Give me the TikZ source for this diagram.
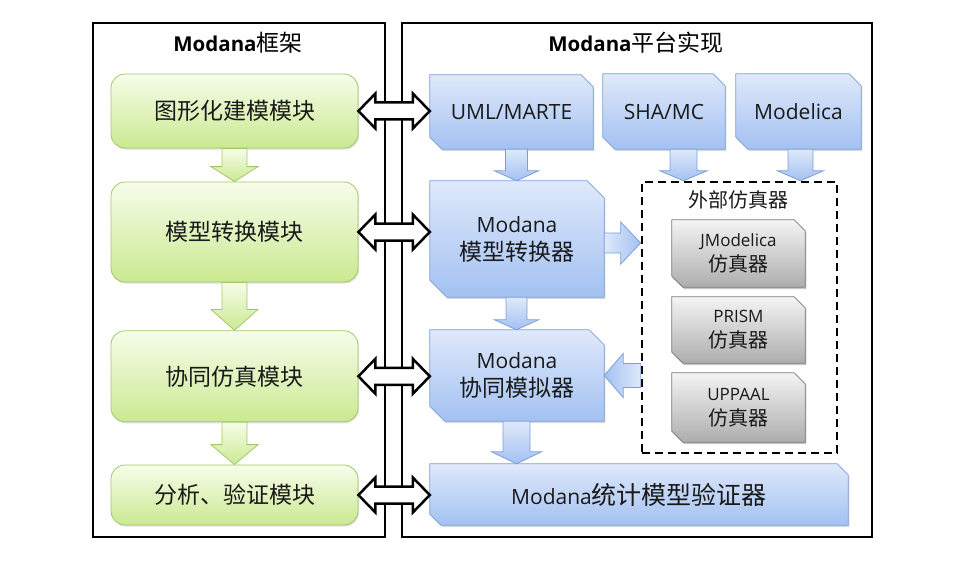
\documentclass[tikz,border=0pt]{standalone}
\usepackage{fontspec}
\setmainfont{Open Sans}
\newfontfamily\cjk{Noto Sans CJK SC}
\usetikzlibrary{calc,backgrounds,shadows}
\definecolor{gtop}{HTML}{F6FDEA}
\definecolor{gbot}{HTML}{CBE991}
\definecolor{gline}{HTML}{A5C76A}
\definecolor{btop}{HTML}{DFE9FA}
\definecolor{bbot}{HTML}{A3C1F2}
\definecolor{bline}{HTML}{7C9FD6}
\definecolor{ktop}{HTML}{F4F4F4}
\definecolor{kbot}{HTML}{ADADAD}
\definecolor{kline}{HTML}{7A7A7A}
\definecolor{txt}{HTML}{1A1A1A}

\newcommand\snipshape[3]{\path[#3] (#1.north west) -- ([xshift=-#2]#1.north east) -- ([yshift=-#2]#1.north east) -- (#1.south east) -- ([xshift=#2]#1.south west) -- ([yshift=#2]#1.south west) -- cycle;}
% style, start, tip, half shaft, half head, head length
\newcommand\bdown[6]{\path[#1] let \p1=#2, \p2=#3 in
  (\x1-#4,\y1) -- (\x1+#4,\y1) -- (\x1+#4,\y2+#6) -- (\x1+#5,\y2+#6) -- (\x1,\y2) -- (\x1-#5,\y2+#6) -- (\x1-#4,\y2+#6) -- cycle;}
\newcommand\bright[6]{\path[#1] let \p1=#2, \p2=#3 in
  (\x1,\y1+#4) -- (\x2-#6,\y1+#4) -- (\x2-#6,\y1+#5) -- (\x2,\y1) -- (\x2-#6,\y1-#5) -- (\x2-#6,\y1-#4) -- (\x1,\y1-#4) -- cycle;}
\newcommand\bleft[6]{\path[#1] let \p1=#2, \p2=#3 in
  (\x1,\y2+#4) -- (\x2+#6,\y2+#4) -- (\x2+#6,\y2+#5) -- (\x2,\y2) -- (\x2+#6,\y2-#5) -- (\x2+#6,\y2-#4) -- (\x1,\y2-#4) -- cycle;}
\newcommand\bdouble[6]{\path[#1] let \p1=#2, \p2=#3 in
  (\x1,\y1) -- (\x1+#6,\y1+#5) -- (\x1+#6,\y1+#4) -- (\x2-#6,\y1+#4) -- (\x2-#6,\y1+#5) -- (\x2,\y1) -- (\x2-#6,\y1-#5) -- (\x2-#6,\y1-#4) -- (\x1+#6,\y1-#4) -- (\x1+#6,\y1-#5) -- cycle;}
\newcommand\zhb[1]{{\cjk\fontsize{23}{28}\selectfont #1}}
\newcommand\zhv[1]{{\cjk\fontsize{25}{28}\selectfont #1}}
\newcommand\zhk[1]{{\cjk\fontsize{20}{25}\selectfont #1}}
\newcommand\zht[1]{{\cjk\mdseries\fontsize{23}{24}\selectfont #1}}

\tikzset{
  frame/.style={draw=black, line width=2.8pt, inner sep=0pt},
  title/.style={font=\bfseries\fontsize{20.5}{24}\selectfont, text=black},
  gbox/.style={draw=gline, line width=0.8pt, rounded corners=14pt, top color=gtop, bottom color=gbot,
    minimum width=247pt, inner sep=0pt, text=txt, font=\cjk\fontsize{23}{26}\selectfont,
    drop shadow={opacity=0.25, shadow xshift=1pt, shadow yshift=-1.5pt}},
  bnode/.style={inner sep=0pt, text=txt, align=center, font=\fontsize{21}{28}\selectfont},
  knode/.style={inner sep=0pt, text=txt, align=center, minimum width=133pt, font=\fontsize{17}{25}\selectfont},
  bshape/.style={draw=bline, line width=0.8pt, top color=btop, bottom color=bbot,
    drop shadow={opacity=0.3, shadow xshift=1.2pt, shadow yshift=-1.8pt}},
  kshape/.style={draw=kline, line width=0.8pt, top color=ktop, bottom color=kbot,
    drop shadow={opacity=0.45, shadow xshift=1.2pt, shadow yshift=-1.8pt}},
  garrow/.style={draw=gline, line width=0.8pt, top color=gtop, bottom color=gbot},
  barrow/.style={draw=bline, line width=0.8pt, top color=btop, bottom color=bbot},
  harrowr/.style={draw=bline, line width=0.8pt, left color=btop, right color=bbot},
  harrowl/.style={draw=bline, line width=0.8pt, left color=bbot, right color=btop},
  dbl/.style={draw=black, line width=2.5pt, fill=white, line join=miter},
  extbox/.style={draw=black, line width=2pt, dash pattern=on 8pt off 5pt, inner sep=0pt},
  extlabel/.style={font=\cjk\fontsize{20}{22}\selectfont, text=txt},
}

\begin{document}
\begin{tikzpicture}[x=1pt,y=-1pt]
\useasboundingbox (0,0) rectangle (960,567);

% frames
\node[frame, minimum width=292pt, minimum height=514pt] (lf) at (239,280) {};
\node[frame, minimum width=470pt, minimum height=514pt] (rf) at (637,280) {};
\node[title] (t1) at (238,43) {Modana\zht{框架}};
\node[title] (t2) at (636,43) {Modana\zht{平台实现}};

% left column
\node[gbox, minimum height=74pt] (g1) at (234.5,111) {图形化建模模块};
\node[gbox, minimum height=100pt] (g2) at (234.5,232) {模型转换模块};
\node[gbox, minimum height=91pt] (g3) at (234.5,376.3) {协同仿真模块};
\node[gbox, minimum height=60pt] (g4) at (234.5,495) {分析、验证模块};

% right column
\node[bnode, minimum width=163pt, minimum height=74pt] (uml) at (511.5,112) {UML/MARTE};
\node[bnode, minimum width=122pt, minimum height=75pt] (sha) at (664,111.5) {SHA/MC};
\node[bnode, minimum width=125pt, minimum height=75pt] (mdl) at (798.5,111.5) {Modelica};
\node[bnode, minimum width=174pt, minimum height=116pt] (conv) at (517,239) {Modana\\\zhb{模型转换器}};
\node[bnode, minimum width=174pt, minimum height=91pt] (sim) at (517,375.5) {Modana\\\zhb{协同模拟器}};
\node[bnode, minimum width=418pt, minimum height=61pt] (ver) at (639,494.5) {Modana\zhv{统计模型验证器}};

% external simulators
\node[extbox, minimum width=195pt, minimum height=271pt] (ext) at (739.2,317.3) {};
\node[extlabel] (extl) at (738,200) {外部仿真器};
\node[knode, minimum height=67pt] (jm) at (738.5,253.5) {JModelica\\\zhk{仿真器}};
\node[knode, minimum height=66pt] (pr) at (738.5,330) {PRISM\\\zhk{仿真器}};
\node[knode, minimum height=69pt] (up) at (738.5,407.5) {UPPAAL\\\zhk{仿真器}};

\begin{pgfonlayer}{background}
\snipshape{uml}{12pt}{bshape}
\snipshape{sha}{12pt}{bshape}
\snipshape{mdl}{12pt}{bshape}
\snipshape{conv}{17pt}{bshape}
\snipshape{sim}{15pt}{bshape}
\snipshape{ver}{11pt}{bshape}
\snipshape{jm}{11pt}{kshape}
\snipshape{pr}{11pt}{kshape}
\snipshape{up}{11pt}{kshape}
\end{pgfonlayer}

% green arrows
\bdown{garrow}{(g1.south)}{(g2.north)}{12.5pt}{23.5pt}{15pt}
\bdown{garrow}{(g2.south)}{(g3.north)}{12.5pt}{23.5pt}{21pt}
\bdown{garrow}{(g3.south)}{(g4.north)}{12.5pt}{23.5pt}{20pt}

% blue arrows
\bdown{barrow}{([xshift=5pt]uml.south)}{(conv.north)}{11pt}{22pt}{10pt}
\bdown{barrow}{([xshift=-0.5pt]conv.south)}{(sim.north)}{10.5pt}{22pt}{10pt}
\bdown{barrow}{([xshift=-0.5pt]sim.south)}{(ver.north)}{13.5pt}{25pt}{12pt}
\bdown{barrow}{([xshift=19.5pt]sha.south)}{(ext.north)}{13.5pt}{23.5pt}{10pt}
\bdown{barrow}{([xshift=2pt]mdl.south)}{(ext.north)}{12.5pt}{23pt}{10pt}
\bright{harrowr}{([yshift=-4pt]conv.east)}{(ext.west)}{10pt}{21pt}{20pt}
\bleft{harrowl}{(ext.west)}{(sim.east)}{12pt}{22pt}{19pt}

% double arrows
\bdouble{dbl}{(g1.east)}{(uml.west)}{8.5pt}{17.5pt}{17pt}
\bdouble{dbl}{(g2.east)}{(conv.west)}{8.5pt}{17.5pt}{17pt}
\bdouble{dbl}{(g3.east)}{(sim.west)}{8.5pt}{17.5pt}{17pt}
\bdouble{dbl}{(g4.east)}{(ver.west)}{8.5pt}{17.5pt}{17pt}
\end{tikzpicture}
\end{document}
